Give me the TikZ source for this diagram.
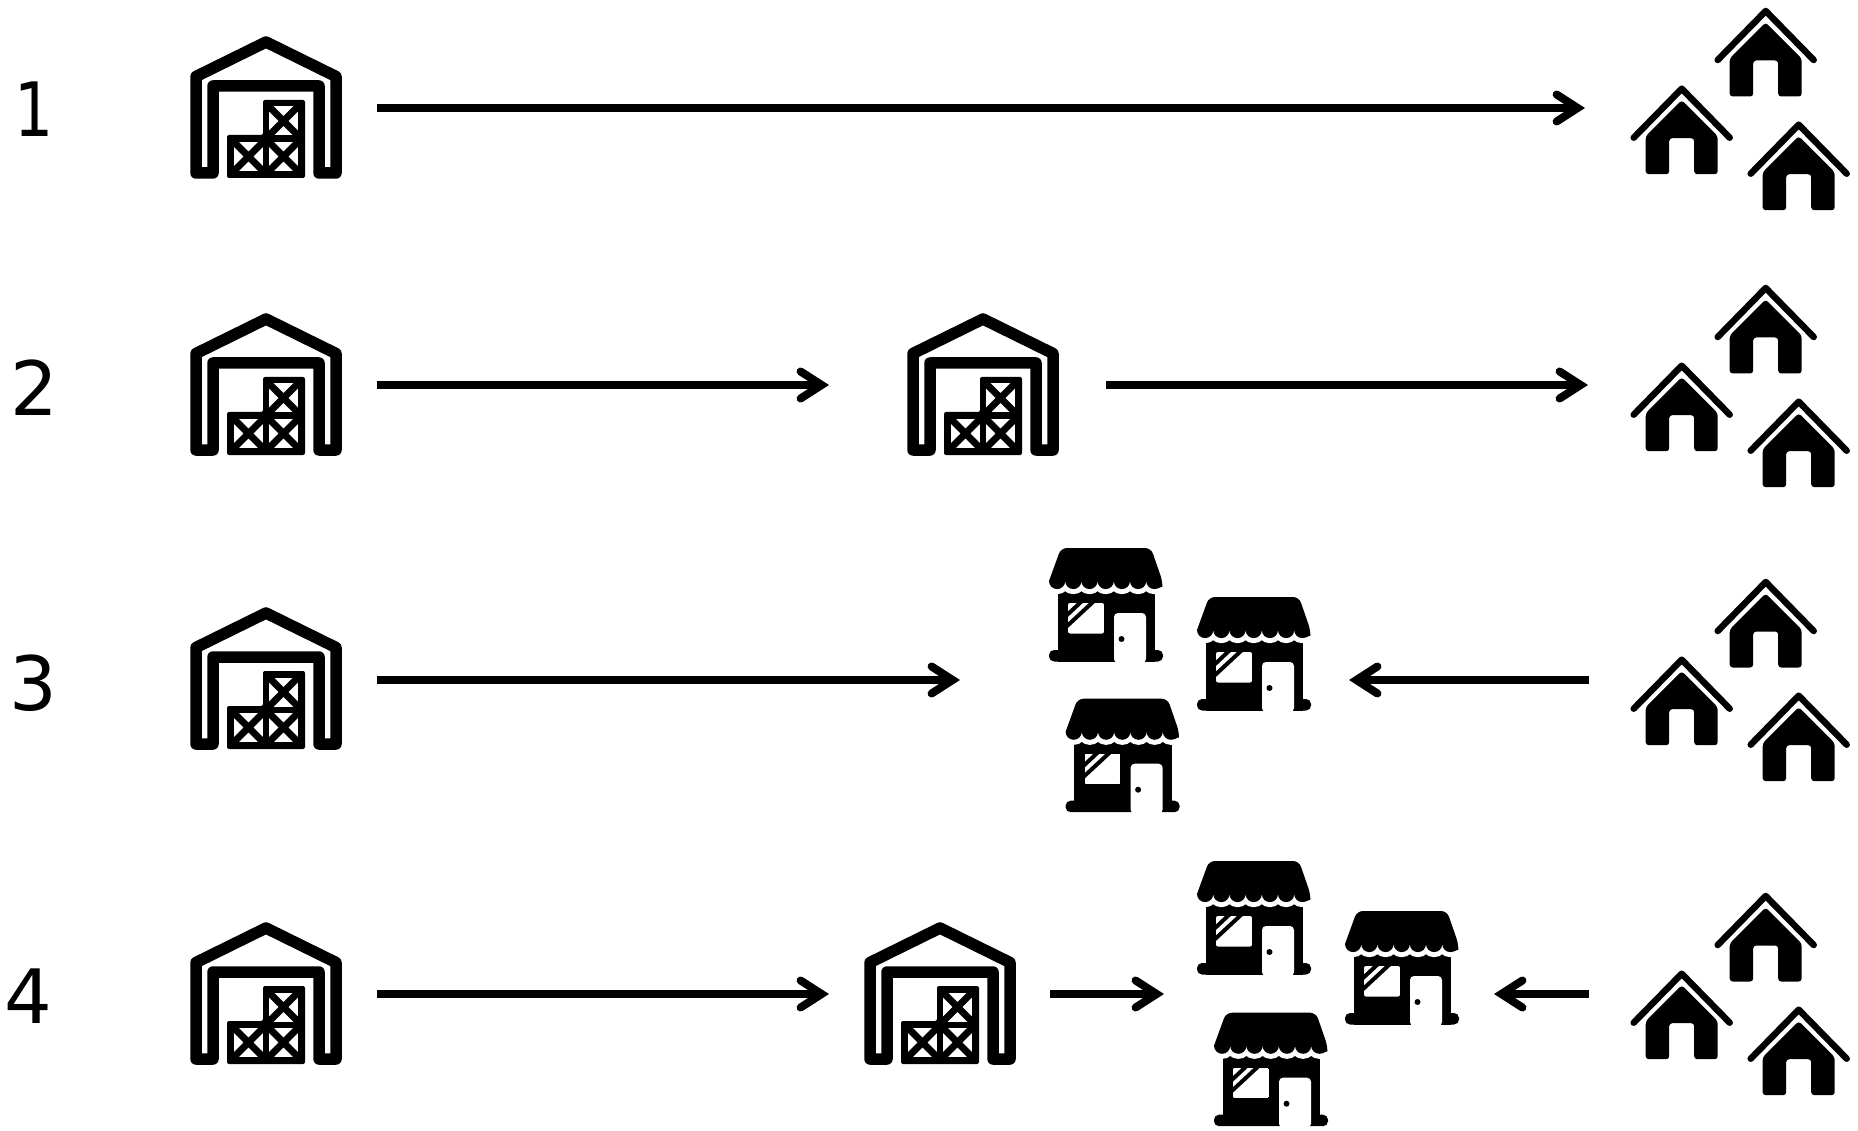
\documentclass[tikz,border=0pt]{standalone}
\usepackage{fontspec}
\usetikzlibrary{arrows.meta}
\setmainfont{DejaVu Sans}
\tikzset{
  px/.style={x=1pt,y=-1pt},
  anchorbox/.style={inner sep=0pt,outer sep=0pt,minimum height=2pt},
  rowlabel/.style={anchor=base,inner sep=0pt,font=\fontsize{75}{75}\selectfont},
  flow/.style={line width=8.5pt,-{Straight Barb[length=21pt,width=27pt,line width=8pt,line cap=round,line join=miter]}},
  warehouse/.pic={
    \draw[line width=11.5pt,line join=round] (196,173)--(196,76.5)--(266,42)--(336,76.5)--(336,173)--(319,173)--(319,86)--(213,86)--(213,173)--cycle;
    \fill[rounded corners=2pt] (263,100)--(305,100)--(305,178)--(227,178)--(227,135)--(263,135)--cycle;
    \foreach \cx/\cy in {283.5/121,248.5/156.5,283.5/156.5}{
      \begin{scope}
        \clip (\cx-14.5,\cy-14.5) rectangle (\cx+14.5,\cy+14.5);
        \fill[white] (\cx-14.5,\cy-14.5) rectangle (\cx+14.5,\cy+14.5);
        \draw[line width=7pt] (\cx-14.5,\cy-14.5)--(\cx+14.5,\cy+14.5) (\cx-14.5,\cy+14.5)--(\cx+14.5,\cy-14.5);
      \end{scope}
    }
  },
  house/.pic={
    \draw[line width=6.5pt,line cap=round,line join=round] (-48,50)--(0,1)--(48,50);
    \fill[rounded corners=3pt] (0,12.5)--(36,48.5)--(36,86.5)--(12.5,86.5)--(12.5,50.5)--(-12.5,50.5)--(-12.5,86.5)--(-36,86.5)--(-36,48.5)--cycle;
  },
  shop/.pic={
    % body and plinth
    \fill (1057.5,585) rectangle (1155,661.5);
    \fill[rounded corners=5pt] (1049,650) rectangle (1163,661.5);
    % white gap under the awning
    \draw[white,line width=10pt] (1049,581)
       arc[start angle=180,end angle=0,radius=8.1]
       arc[start angle=180,end angle=0,radius=8.1]
       arc[start angle=180,end angle=0,radius=8.1]
       arc[start angle=180,end angle=0,radius=8.1]
       arc[start angle=180,end angle=0,radius=8.1]
       arc[start angle=180,end angle=0,radius=8.1]
       arc[start angle=180,end angle=0,radius=8.1];
    % awning
    \fill[rounded corners=6pt] (1049,581)--(1061,548)--(1151,548)--(1162.4,581)[sharp corners]
       arc[start angle=0,end angle=180,radius=8.1]
       arc[start angle=0,end angle=180,radius=8.1]
       arc[start angle=0,end angle=180,radius=8.1]
       arc[start angle=0,end angle=180,radius=8.1]
       arc[start angle=0,end angle=180,radius=8.1]
       arc[start angle=0,end angle=180,radius=8.1]
       arc[start angle=0,end angle=180,radius=8.1]
       -- cycle;
    % window
    \begin{scope}
      \path[clip,rounded corners=2pt] (1068,603) rectangle (1104,633.5);
      \fill[white] (1068,603) rectangle (1104,633.5);
      \draw[line width=4pt] (1066,616)--(1082,601) (1066,627)--(1094,601);
    \end{scope}
    % door
    \fill[white,rounded corners=4pt] (1114,663)--(1114,613)--(1146,613)--(1146,663)--cycle;
    \fill (1121.5,639) circle[radius=3];
  }
}
\begin{document}
\begin{tikzpicture}[px]
\useasboundingbox (0,0) rectangle (1858,1131);
% warehouses
\foreach \dx/\dy in {0/0,0/277,0/571,0/886,717/277,674/886}{
  \pic[shift={(\dx,\dy)}] {warehouse};
}
% houses
\foreach \dy in {0,277,571,885}{
  \foreach \hx/\hy in {1765.7/10,1681.7/87.7,1798.7/123.7}{
    \pic[shift={(\hx,\hy+\dy)}] {house};
  }
}
% shops
\foreach \dx/\dy in {0/0,148/49,16.6/150.7,148/313,296/363,165/464.7}{
  \pic[shift={(\dx,\dy)}] {shop};
}
% labels
\node[rowlabel,xscale=0.82] (n1) at (34.5,137) {1};
\node[rowlabel] (n2) at (34,415) {2};
\node[rowlabel] (n3) at (33,710) {3};
\node[rowlabel] (n4) at (28,1023) {4};
% invisible anchors
\node[anchorbox,minimum width=222pt] (wa) at (266,108) {};
\node[anchorbox,minimum width=140pt] (ha) at (1655,108) {};
\node[anchorbox,minimum width=222pt] (wb) at (266,385) {};
\node[anchorbox,minimum width=277pt] (wc) at (967.5,385) {};
\node[anchorbox,minimum width=140pt] (hb) at (1658,385) {};
\node[anchorbox,minimum width=222pt] (wd) at (266,680) {};
\node[anchorbox,minimum width=389pt] (sa) at (1154.5,680) {};
\node[anchorbox,minimum width=140pt] (hc) at (1659,680) {};
\node[anchorbox,minimum width=222pt] (we) at (266,994) {};
\node[anchorbox,minimum width=221pt] (wf) at (939.5,994) {};
\node[anchorbox,minimum width=330pt] (sb) at (1329,994) {};
\node[anchorbox,minimum width=140pt] (hd) at (1659,994) {};
% arrows
\draw[flow] (wa.east)--(ha.west);
\draw[flow] (wb.east)--(wc.west);
\draw[flow] (wc.east)--(hb.west);
\draw[flow] (wd.east)--(sa.west);
\draw[flow] (hc.west)--(sa.east);
\draw[flow] (we.east)--(wf.west);
\draw[flow] (wf.east)--(sb.west);
\draw[flow] (hd.west)--(sb.east);
\end{tikzpicture}
\end{document}
